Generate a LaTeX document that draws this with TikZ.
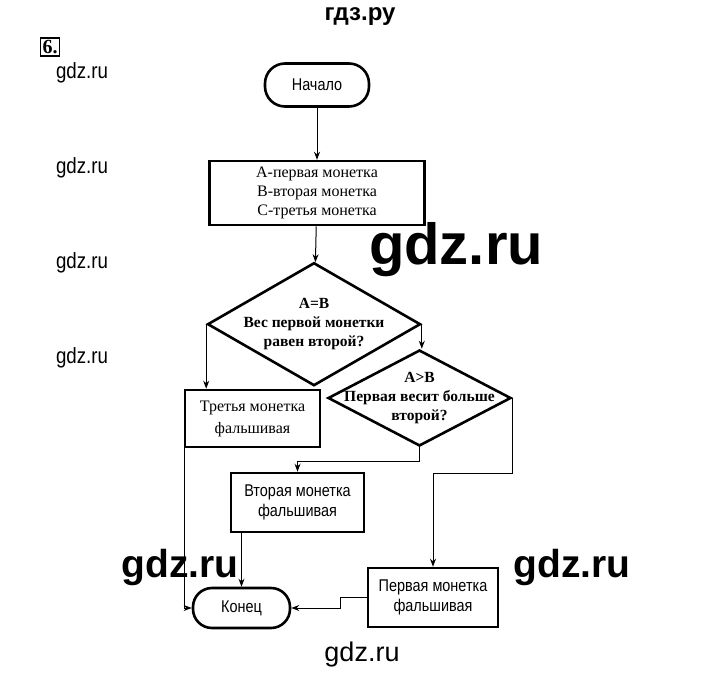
\documentclass[tikz,border=0pt]{standalone}
\usepackage{fontspec}
\setmainfont{Liberation Serif}
\newfontfamily\narrowsans[FakeStretch=0.85]{Liberation Sans}
\newfontfamily\marksans{Liberation Sans}
\usetikzlibrary{shapes.geometric,arrows.meta,positioning}

\begin{document}
\begin{tikzpicture}[
    x=1pt, y=-1pt,
    term/.style={rectangle, draw, line width=2.6pt, rounded corners=20pt, align=center, minimum width=104pt, minimum height=43pt, font=\narrowsans\fontsize{17}{18}\selectfont},
    proc/.style={rectangle, draw, line width=2.6pt, align=center, inner sep=2pt, font=\fontsize{16}{19}\selectfont},
    procs/.style={proc, font=\narrowsans\fontsize{17}{20}\selectfont},
    cond/.style={diamond, draw, line width=2.6pt, inner sep=0pt},
    condtext/.style={align=center, inner sep=0pt, font=\bfseries\fontsize{15.5}{19}\selectfont},
    arr/.style={-{Stealth[length=8pt,width=6pt]}, line width=1pt},
    wm/.style={font=\marksans\bfseries\fontsize{#1}{#1}\selectfont}
]
    \useasboundingbox (0,0) rectangle (720,696);

    % page marks
    \node [wm=24] (header) at (360,17) {гдз.ру};
    \node [draw, line width=1.5pt, inner sep=2pt, font=\bfseries\fontsize{20}{20}\selectfont] (num) at (50,47) {6.};
    \foreach \y [count=\i] in {73,168,263,358}
        \node [font=\narrowsans\fontsize{22}{22}\selectfont] (mark\i) at (82,\y) {gdz.ru};

    % flowchart
    \node [term] (start) at (317,85) {Начало};
    \node [proc, minimum width=215pt, minimum height=64pt, below=52pt of start] (coins) {А-первая монетка\\В-вторая монетка\\С-третья монетка};
    \node [cond, minimum width=213pt, minimum height=123pt, below=35pt of coins, xshift=-3pt,
           label={[condtext]center:{A=B\\Вес первой монетки\\равен второй?}}] (eqAB) {};
    \node [cond, minimum width=183pt, minimum height=96pt,
           label={[condtext]center:{A>B\\Первая весит больше\\второй?}}] (gtAB) at (419.5,398) {};
    \node [proc, minimum width=135pt, minimum height=57pt, font=\fontsize{16}{22}\selectfont] (third) at (252.5,418.5) {Третья монетка\\фальшивая};
    \node [procs, minimum width=133pt, minimum height=59pt] (second) at (297.5,502.5) {Вторая монетка\\фальшивая};
    \node [procs, minimum width=130pt, minimum height=59pt] (first) at (433,597.5) {Первая монетка\\фальшивая};
    \node [term, minimum width=97pt, minimum height=40pt, rounded corners=19pt] (finish) at (241.5,608) {Конец};

    \draw [arr] (start) -- (coins);
    \draw [arr] (coins) -- (eqAB);
    \draw [arr] (eqAB.west) -- (eqAB.west |- third.north);
    \draw [arr] (eqAB.east) -- (eqAB.east |- gtAB.north);
    \draw [arr] (gtAB.south) -- ++(0,14) -| (second.north);
    \draw [arr] (gtAB.east) -- ++(0,75) -| (first.north);
    \draw [arr] (finish.north |- second.south) -- (finish.north);
    \draw [arr] ([xshift=1pt]third.south west) |- (finish.west);
    \draw [arr] (first.west) -- ++(-26,0) |- (finish.east);

    % watermarks
    \node [wm=58] (markA) at (456,250) {gdz.ru};
    \node [wm=39] (markB) at (180,567) {gdz.ru};
    \node [wm=39] (markC) at (572,567) {gdz.ru};
    \node [font=\marksans\fontsize{27}{27}\selectfont] (markD) at (362,655) {gdz.ru};
\end{tikzpicture}
\end{document}
